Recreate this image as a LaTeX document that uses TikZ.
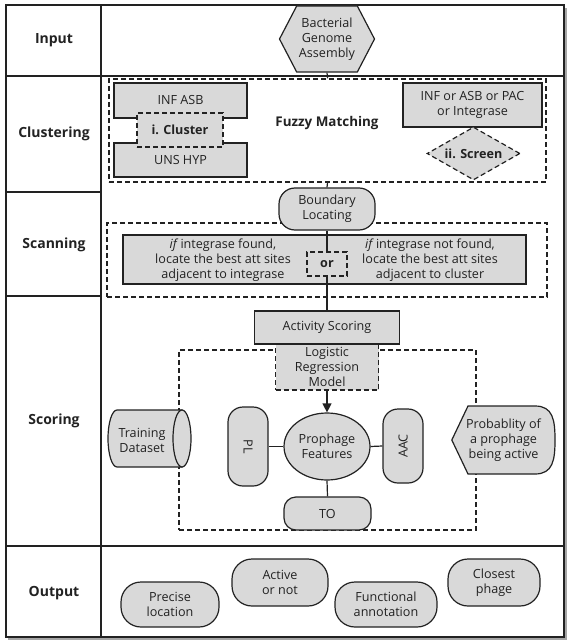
\documentclass[tikz,border=0pt]{standalone}
\usepackage{fontspec}
\setmainfont{Open Sans}
\usetikzlibrary{shapes.geometric,shapes.symbols,arrows.meta,backgrounds}
\definecolor{boxgray}{HTML}{D9D9D9}
\definecolor{ink}{HTML}{222222}
\pgfdeclarelayer{mid}
\pgfsetlayers{background,mid,main}
\begin{document}
\begin{tikzpicture}[x=1pt,y=-1pt,
  font=\fontsize{12.6}{15}\selectfont,
  gbox/.style={draw=ink,fill=boxgray,line width=1.2pt,inner sep=0pt,align=center,text=ink},
  dbox/.style={gbox,dash pattern=on 5pt off 3pt},
  rnd/.style={gbox,rounded corners=#1},
  rnd/.default=16pt,
  dframe/.style={draw=ink,line width=1.2pt,dash pattern=on 5pt off 3pt,inner sep=0pt},
  lbl/.style={font=\bfseries\fontsize{14}{16}\selectfont,text=ink},
  conn/.style={draw=ink,line width=1.2pt},
  grid/.style={draw=ink,line width=1.2pt},
  shp/.style={draw=ink,fill=boxgray,line width=1.2pt}]
\useasboundingbox (0,0) rectangle (570,644);

% table frame
\draw[gray!70,line width=1.6pt] (8,639) -- (566,639) -- (566,8);
\draw[grid,line width=1.4pt] (6,5) rectangle (564,637);
\draw[grid] (101,5) -- (101,637);
\draw[grid] (6,76) -- (564,76);
\draw[grid] (6,192) -- (101,192);
\draw[grid] (6,296) -- (101,296);
\draw[grid] (6,546) -- (564,546);

% row labels
\node[lbl] (Lin) at (54,40) {Input};
\node[lbl] (Lcl) at (54,134) {Clustering};
\node[lbl] (Lsc) at (54,245) {Scanning};
\node[lbl] (Lso) at (54,421) {Scoring};
\node[lbl] (Lou) at (54,593) {Output};

% input
\node[gbox,signal,signal to=west and east,signal pointer angle=125,
      minimum width=95,minimum height=66] (gen) at (327,39) {Bacterial\\Genome\\Assembly};

% clustering
\node[gbox,minimum width=133,minimum height=35] (inf) at (180.5,100.5) {INF ASB};
\node[gbox,minimum width=133,minimum height=34] (uns) at (180.5,160) {UNS HYP};
\node[dbox,minimum width=86,minimum height=34] (clu) at (180,130) {\bfseries i. Cluster};
\node[font=\bfseries\fontsize{13.4}{15}\selectfont,text=ink] (fuzzy) at (327,123) {Fuzzy Matching};
\node[gbox,minimum width=139,minimum height=44] (pac) at (472.5,105) {INF or ASB or PAC\\or Integrase};
\node[dbox,diamond,aspect=1.75,minimum width=93,minimum height=53] (scr) at (473.5,153.5) {\bfseries ii. Screen};

% scanning
\node[rnd,minimum width=96,minimum height=42] (bnd) at (327,209) {Boundary\\Locating};
\node[gbox,minimum width=403,minimum height=49] (scan) at (324.5,259.5) {};
\node[align=center,text=ink,inner sep=0pt] (ift) at (223,260) {\textit{if}\,integrase found,\\locate the best att sites\\adjacent to integrase};
\node[align=center,text=ink,inner sep=0pt] (ifn) at (430,260) {\textit{if}\,integrase not found,\\locate the best att sites\\adjacent to cluster};
\node[dbox,minimum width=40,minimum height=24] (or) at (327,264) {\bfseries or};

% scoring
\node[dbox,minimum width=103,minimum height=46] (logit) at (327,367) {Logistic\\Regression\\Model};
\node[gbox,minimum width=145,minimum height=33] (act) at (327,327.5) {Activity Scoring};
\node[gbox,ellipse,minimum width=86,minimum height=67] (feat) at (327,446.5) {Prophage\\Features};
\node[rnd=15pt,minimum width=40,minimum height=79] (pl) at (248,446.5) {\rotatebox{-90}{PL}};
\node[rnd=15pt,minimum width=40,minimum height=74] (aac) at (403,446) {\rotatebox{90}{AAC}};
\node[rnd=12pt,minimum width=87,minimum height=33] (to) at (327.5,513.5) {TO};
\node[align=center,inner sep=0pt,text=ink] (train) at (142,440) {Training\\Dataset};
\node[align=center,inner sep=0pt,minimum width=103,minimum height=68,text=ink] (prob) at (503.5,440) {Probablity of\\a prophage\\being active};
\begin{pgfonlayer}{mid}
\draw[shp] (prob.west) -- (468,406) -- (535,406)
  .. controls (553,406) and (555,420) .. (555,440)
  .. controls (555,460) and (553,474) .. (535,474) -- (468,474) -- cycle;
\draw[shp] (182,410) -- (117,410) arc[start angle=270,end angle=90,x radius=9,y radius=28.5] -- (182,467) -- cycle;
\draw[shp] (182,438.5) ellipse [x radius=9,y radius=28.5];
\end{pgfonlayer}

% output
\node[rnd=20pt,minimum width=98,minimum height=45] (o1) at (170,604.5) {Precise\\location};
\node[rnd=20pt,minimum width=96,minimum height=47] (o2) at (280,582.5) {Active\\or not};
\node[rnd=20pt,minimum width=102,minimum height=45] (o3) at (386,604.5) {Functional\\annotation};
\node[rnd=20pt,minimum width=92,minimum height=47] (o4) at (494,582.5) {Closest\\phage};

% dashed frames
\begin{pgfonlayer}{background}
\node[dframe,minimum width=437,minimum height=103] (clbox) at (327.5,130.5) {};
\node[dframe,minimum width=440,minimum height=74] (scbox) at (327,260) {};
\node[dframe,minimum width=297,minimum height=180] (sobox) at (327.5,440) {};
\end{pgfonlayer}

% connectors
\draw[conn] (gen.south) -- (clbox.north);
\draw[conn] (clbox.south) -- (bnd.north);
\draw[conn] (bnd.south) -- (or.north);
\draw[conn] (or.south) -- (act.north);
\draw[conn,-{Triangle[length=9pt,width=9pt]}] (logit.south) -- (feat.north);
\draw[conn] (feat.west) -- (pl.east);
\draw[conn] (feat.east) -- (aac.west);
\draw[conn] (feat.south) -- (to.north);
\end{tikzpicture}
\end{document}
